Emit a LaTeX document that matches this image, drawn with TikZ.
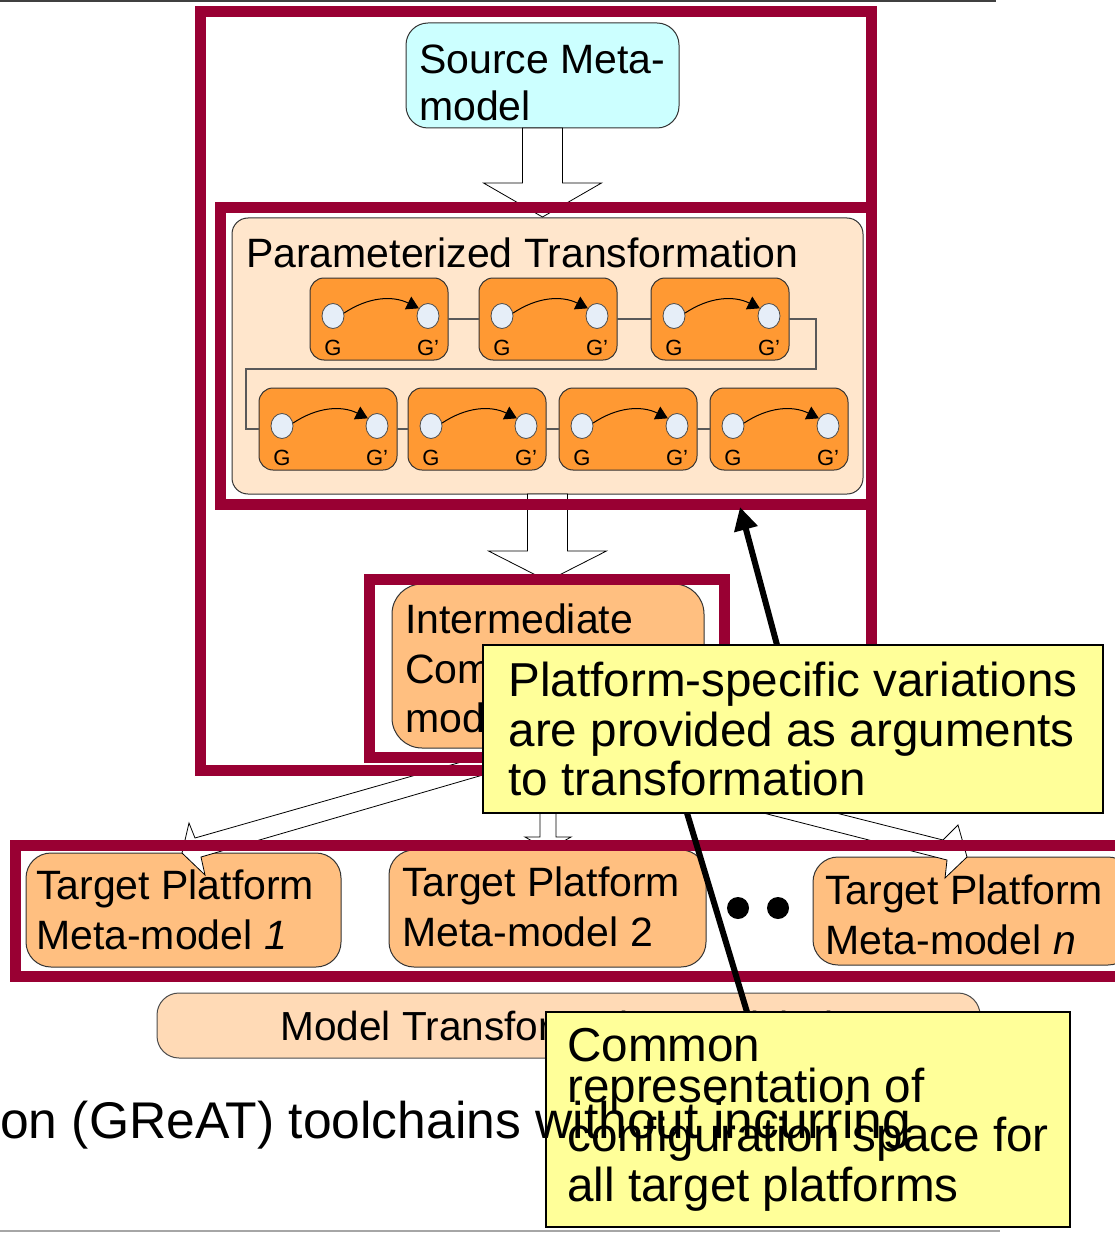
\documentclass[tikz,border=0pt]{standalone}
\usepackage{fontspec}
\setmainfont{Liberation Sans}
\usetikzlibrary{arrows.meta,shapes.geometric}

\definecolor{frmred}{HTML}{990033}
\definecolor{srcfill}{HTML}{CCFFFF}
\definecolor{ptfill}{HTML}{FFE6CC}
\definecolor{rulefill}{HTML}{FF9933}
\definecolor{tgtfill}{HTML}{FFBF80}
\definecolor{toolfill}{HTML}{FFDAB6}
\definecolor{notefill}{HTML}{FFFF99}
\definecolor{vtxfill}{HTML}{E6EEF8}

\tikzset{
    mbox/.style={draw=black!80, line width=1pt, anchor=north west, inner sep=0pt, outer sep=0pt},
    boxtext/.style={anchor=north west, align=left, inner sep=0pt, font=\fontsize{41}{49.5}\selectfont},
    rulebox/.style={mbox, fill=rulefill, rounded corners=14pt, minimum width=138pt, minimum height=82pt},
    vtx/.style={ellipse, draw=black!70, fill=vtxfill, line width=0.8pt, minimum width=22pt, minimum height=25pt, inner sep=0pt},
    glabel/.style={anchor=base, inner sep=0pt, font=\fontsize{22}{24}\selectfont},
    rulelink/.style={draw=black!65, line width=1.2pt},
    hollowarrow/.style={draw=black, fill=white, line width=0.8pt, line join=miter},
    bigframe/.style={draw=frmred, line width=11pt, anchor=north west, inner sep=0pt, outer sep=0pt},
    notebox/.style={draw=black, line width=2.5pt, fill=notefill, anchor=north west, inner sep=0pt, outer sep=0pt, align=left, font=\fontsize{47.6}{49.5}\selectfont},
    thickptr/.style={line width=6pt, draw=black},
    dot/.style={circle, fill=black, minimum size=22pt, inner sep=0pt}
}

\begin{document}
\begin{tikzpicture}[x=1pt,y=-1pt]
            \useasboundingbox (0,0) rectangle (1115,1233);
            \draw[line width=2pt, draw=black!75] (0,1) -- (996,1);
            \draw[line width=2pt, draw=black!35] (0,1231) -- (1000,1231);

            % source and parameterized transformation
            \node[mbox, fill=srcfill, rounded corners=22pt, minimum width=273pt, minimum height=105pt] (src) at (406,23) {};
            \node[boxtext, font=\fontsize{41}{47}\selectfont] at ([shift={(13,22)}]src.north west) {Source Meta-\\model};
            \node[mbox, fill=ptfill, rounded corners=16pt, minimum width=631pt, minimum height=276pt] (ptbox) at (232,218) {};
            \node[boxtext, anchor=base west] at ([shift={(14,49)}]ptbox.north west) {Parameterized Transformation};

            % rewrite rules G -> G'
            \foreach \n/\x/\y in {1/310/278, 2/479/278, 3/651/278, 4/259/388, 5/408/388, 6/559/388, 7/710/388} {
                \node[rulebox] (r\n) at (\x,\y) {};
                \node[vtx] (g\n) at ([shift={(23,38)}]r\n.north west) {};
                \node[vtx] (h\n) at ([shift={(118,38)}]r\n.north west) {};
                \draw[line width=1pt, -{Triangle[length=12pt,width=14pt]}] (g\n.15) to[bend left=30] (h\n.140);
                \node[glabel] at ([shift={(23,77)}]r\n.north west) {G};
                \node[glabel] at ([shift={(118,77)}]r\n.north west) {G’};
            }
            \coordinate (wrapr) at (816,369);
            \coordinate (wrapl) at (246,369);
            \draw[rulelink] (r1) -- (r2);
            \draw[rulelink] (r2) -- (r3);
            \draw[rulelink] (r3.east) -| (wrapr) -- (wrapl) |- (r4.west);
            \draw[rulelink] (r4) -- (r5);
            \draw[rulelink] (r5) -- (r6);
            \draw[rulelink] (r6) -- (r7);

            % intermediate and target meta-models
            \node[mbox, fill=tgtfill, rounded corners=30pt, minimum width=312pt, minimum height=164pt] (imbox) at (392,584) {};
            \node[boxtext] at ([shift={(13,20)}]imbox.north west) {Intermediate\\Common Meta-\\model};
            \node[mbox, fill=tgtfill, rounded corners=25pt, minimum width=315pt, minimum height=114pt] (tgt1) at (26,853) {};
            \node[boxtext] at ([shift={(10,17)}]tgt1.north west) {Target Platform\\Meta-model \textit{1}};
            \node[mbox, fill=tgtfill, rounded corners=25pt, minimum width=317pt, minimum height=117pt] (tgt2) at (389,850) {};
            \node[boxtext] at ([shift={(13,17)}]tgt2.north west) {Target Platform\\Meta-model 2};
            \node[mbox, fill=tgtfill, rounded corners=25pt, minimum width=320pt, minimum height=108pt] (tgtn) at (813,857) {};
            \node[boxtext] at ([shift={(12,18)}]tgtn.north west) {Target Platform\\Meta-model \textit{n}};
            \node[dot] (dot1) at (738,908) {};
            \node[dot] (dot2) at (778,908) {};
            \node[mbox, fill=toolfill, draw=black!70, rounded corners=22pt, minimum width=823pt, minimum height=65pt, font=\fontsize{40.6}{48}\selectfont] (tool) at (157,993) {Model Transformation Toolchain};

            % block arrows
            \draw[hollowarrow] ([xshift=-20pt]src.south) -- ++(0,55) -- ++(-39,0) -- ++(59,34) -- ++(59,-34) -- ++(-39,0) -- ++(0,-55) -- cycle;
            \draw[hollowarrow] ([xshift=-20pt]ptbox.south) -- ++(0,57) -- ++(-39,0) -- ++(59,30) -- ++(59,-30) -- ++(-39,0) -- ++(0,-57) -- cycle;
            \draw[hollowarrow] ([xshift=-8pt]imbox.south) -- ++(0,89) -- ++(-15,0) -- ++(23,13) -- ++(23,-13) -- ++(-15,0) -- ++(0,-89) -- cycle;
            \draw[hollowarrow] ([shift={(-48,3)}]imbox.south) -- ++(-305,87) -- ++(-6,-15) -- ++(-7,30) -- ++(23,22) -- ++(-4,-18) -- ++(299,-87) -- cycle;
            \draw[hollowarrow] ([shift={(102,18)}]imbox.south) -- ++(293,74) -- ++(15,-15) -- ++(9,32) -- ++(-22,21) -- ++(2,-18) -- ++(-297,-76) -- cycle;

            % frames
            \node[bigframe, minimum width=671pt, minimum height=758.5pt] (outer) at (200,11.5) {};
            \node[bigframe, minimum width=651pt, minimum height=296.5pt] (ptfrm) at (220,207.5) {};
            \node[bigframe, minimum width=355pt, minimum height=178pt] (imfrm) at (369,579) {};
            \node[bigframe, minimum width=1110pt, minimum height=131pt] (tgtfrm) at (15.5,845) {};

            % callouts
            \node[notebox, minimum width=620pt, minimum height=168pt] (plat) at (483,645) {Platform-specific variations\\are provided as arguments\\to transformation};
            \node[notebox, minimum width=524pt, minimum height=215pt] (cmn) at (546,1012) {Common\\[-8.5pt]representation of\\configuration space for\\all target platforms};
            \coordinate (argtip) at (740,507);
            \draw[thickptr, -{Triangle[length=23pt,width=23pt]}] ([xshift=294pt]plat.north west) -- (argtip);
            \draw[thickptr] ([xshift=201pt]cmn.north west) -- ([xshift=204pt]plat.south west);

            \node[anchor=base west, inner sep=0pt, font=\fontsize{51.6}{60}\selectfont] (slide) at (0,1138) {on (GReAT) toolchains without incurring};
        \end{tikzpicture}
\end{document}
